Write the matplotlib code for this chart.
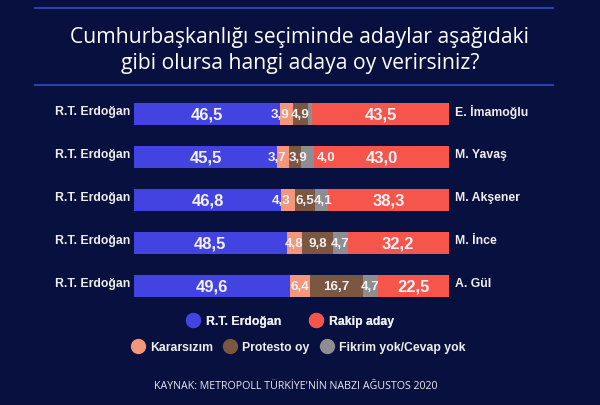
import matplotlib
matplotlib.use("Agg")
from matplotlib import pyplot as plt
from matplotlib.lines import Line2D
import numpy as np

# values
rivals = ["E. İmamoğlu", "M. Yavaş", "M. Akşener", "M. İnce", "A. Gül"]
erdogan = [46.5, 45.5, 46.8, 48.5, 49.6]
kararsiz = [3.9, 3.7, 4.3, 4.8, 6.4]
protesto = [4.9, 3.9, 6.5, 9.8, 16.7]
fikrim = [1.2, 4.0, 4.1, 4.7, 4.7]
rakip = [43.5, 43.0, 38.3, 32.2, 22.5]
show_fikrim = [False, True, True, True, True]

BG = "#08103f"
LINE = "#2f3fb0"
colors = ["#4343e2", "#f3967a", "#7b5742", "#8e8e92", "#f5554b"]
series = [erdogan, kararsiz, protesto, fikrim, rakip]

W, H = 600, 406
fig = plt.figure(figsize=(W / 100, H / 100), dpi=100, facecolor=BG)

# bar axes: 0-100 spans px 134..449, rows 43 px apart
row_h = 43
top = 115 - row_h / 2
ax = fig.add_axes([134 / W, 1 - (top + 5 * row_h) / H, 315 / W, 5 * row_h / H])
ax.set_facecolor(BG)
ax.set_xlim(0, 100)
ax.set_ylim(4.5, -0.5)
ax.axis("off")

y = np.arange(len(rivals))
left = np.zeros(len(rivals))
for k, (vals, c) in enumerate(zip(series, colors)):
    vals = np.array(vals)
    ax.barh(y, vals, left=left, height=0.51, color=c, linewidth=0)
    for i, v in enumerate(vals):
        if k == 3 and not show_fikrim[i]:
            continue
        x, ha = left[i] + v / 2, "center"
        # crowded narrow segments: push labels apart like the original
        if k == 1 and v < 4.5:
            x = left[i]
        elif k == 2 and v < 4.5:
            x = left[i] + v / 2 + 1
        elif k == 3 and series[2][i] < 4.5:
            x, ha = left[i] + v + 1, "left"
        elif k == 3 and v < 4.5:
            x = left[i] + v / 2 + 0.4
        ax.text(x, y[i], f"{v:.1f}".replace(".", ","),
                ha=ha, va="center", color="#f2f2f6",
                fontsize=12 if v > 20 else 9.6, fontweight="bold",
                family="Liberation Sans")
    left += vals

for i, name in enumerate(rivals):
    ax.text(-1.3, y[i] - 0.08, "R.T. Erdoğan", ha="right", va="center",
            color="#eeeeee", fontsize=8.8, fontweight="bold", family="Liberation Sans")
    ax.text(101.8, y[i] - 0.08, name, ha="left", va="center",
            color="#eeeeee", fontsize=8.8, fontweight="bold", family="Liberation Sans")

# header lines and title
fig.add_artist(Line2D([35 / W, 553 / W], [1 - 8.5 / H, 1 - 8.5 / H], color=LINE, lw=1.5))
fig.add_artist(Line2D([35 / W, 553 / W], [1 - 86 / H, 1 - 86 / H], color=LINE, lw=1.5))
fig.text(0.5, 1 - 37 / H, "Cumhurbaşkanlığı seçiminde adaylar aşağıdaki",
         ha="center", va="center", color="white", fontsize=15.2, family="Open Sans")
fig.text(0.5, 1 - 64 / H, "gibi olursa hangi adaya oy verirsiniz?",
         ha="center", va="center", color="white", fontsize=15.2, family="Open Sans")


def dot(c):
    return Line2D([], [], marker="o", linestyle="", markersize=10,
                  markerfacecolor=c, markeredgecolor=c)


leg_font = {"family": "Liberation Sans", "weight": "bold", "size": 8.8}
leg1 = fig.legend([dot(colors[0]), dot(colors[4])], ["R.T. Erdoğan", "Rakip aday"],
                  loc="center", bbox_to_anchor=(290 / W, 1 - 322 / H), ncol=2,
                  frameon=False, prop=leg_font, labelcolor="#eeeeee",
                  handletextpad=0.5, columnspacing=2.2, handlelength=1.2)
fig.add_artist(leg1)
fig.legend([dot(colors[1]), dot(colors[2]), dot(colors[3])],
           ["Kararsızım", "Protesto oy", "Fikrim yok/Cevap yok"],
           loc="center", bbox_to_anchor=(298 / W, 1 - 348 / H), ncol=3,
           frameon=False, prop=leg_font, labelcolor="#eeeeee",
           handletextpad=0.4, columnspacing=0.8, handlelength=1.2)

fig.text(296 / W, 1 - 387 / H, "KAYNAK: METROPOLL TÜRKİYE'NİN NABZI AĞUSTOS 2020",
         ha="center", va="center", color="#e8e8ee", fontsize=7.7, family="Open Sans")

fig.savefig("out.png", dpi=100, facecolor=BG)
